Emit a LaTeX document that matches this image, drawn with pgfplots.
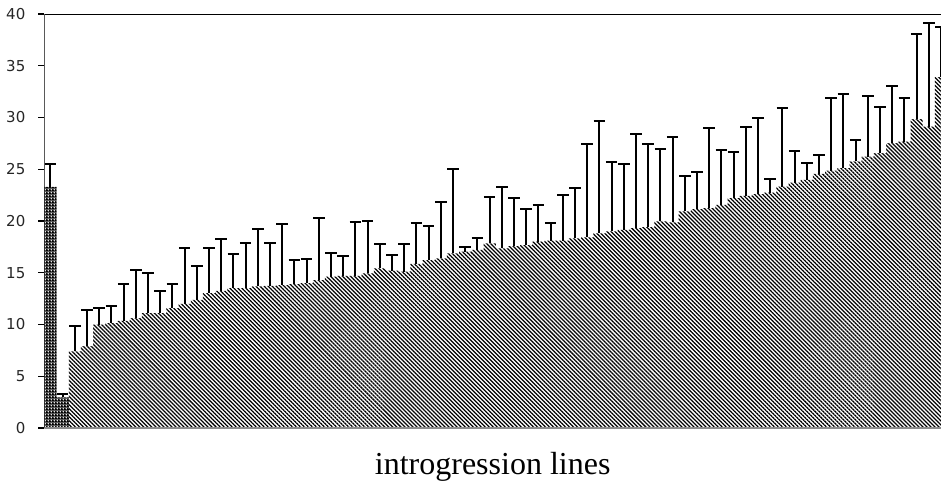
\documentclass[border=0pt]{standalone}
\usepackage{fontspec}
\setmainfont{Liberation Serif}
\newfontfamily\ticksfont{DejaVu Sans}
\usepackage{pgfplots}
\pgfplotsset{compat=1.18}
\usepackage{pgfplotstable}
\usetikzlibrary{patterns.meta}

% black tile with a small white dot: used for the two parental lines
\pgfdeclarepattern{
  name=parentdots,
  type=colored,
  bottom left={\pgfpoint{0pt}{0pt}},
  top right={\pgfpoint{1.6pt}{1.6pt}},
  tile size={\pgfpoint{1.6pt}{1.6pt}},
  code={
    \pgfsetfillcolor{black}
    \pgfpathrectangle{\pgfpointorigin}{\pgfpoint{1.6pt}{1.6pt}}
    \pgfusepath{fill}
    \pgfsetfillcolor{white}
    \pgfpathcircle{\pgfpoint{0.8pt}{0.8pt}}{0.5pt}
    \pgfusepath{fill}
  }
}

% parents: mean and upper error
\pgfplotstableread{
x  y     err
0  23.30 2.20
1  2.95  0.30
}\parents

% introgression lines: mean and upper error
\pgfplotstableread{
x  y     err
2  7.40  2.42
3  7.90  3.53
4  9.98  1.61
5  10.14 1.61
6  10.36 3.58
7  10.62 4.67
8  11.10 3.87
9  11.10 2.10
10 11.59 2.35
11 12.00 5.44
12 12.39 3.28
13 13.04 4.31
14 13.26 4.99
15 13.52 3.28
16 13.52 4.31
17 13.68 5.57
18 13.74 4.09
19 13.80 5.90
20 13.90 2.29
21 14.00 2.35
22 14.30 6.00
23 14.62 2.26
24 14.69 1.93
25 14.69 5.21
26 14.94 5.06
27 15.43 2.32
28 15.20 1.55
29 15.10 2.65
30 15.85 3.99
31 16.23 3.32
32 16.39 5.48
33 16.88 8.14
34 17.04 0.45
35 17.20 1.13
36 17.84 4.51
37 17.36 5.89
38 17.58 4.67
39 17.68 3.45
40 18.00 3.51
41 18.10 1.74
42 18.10 4.41
43 18.33 4.86
44 18.42 8.98
45 18.81 10.86
46 19.00 6.70
47 19.15 6.34
48 19.31 9.08
49 19.41 8.01
50 19.96 7.04
51 19.86 8.27
52 20.92 3.44
53 21.15 3.60
54 21.24 7.73
55 21.56 5.31
56 22.21 4.47
57 22.43 6.70
58 22.59 7.37
59 22.75 1.32
60 23.33 7.60
61 23.72 3.06
62 23.98 1.61
63 24.56 1.77
64 24.88 7.02
65 25.10 7.15
66 25.75 2.09
67 26.23 5.86
68 26.55 4.51
69 27.52 5.53
70 27.68 4.18
71 29.84 8.24
72 29.13 9.98
73 33.89 4.89
}\lines

\begin{document}
\begin{tikzpicture}
\begin{axis}[
  at={(0,0)}, anchor=south west,
  scale only axis,
  width=448.3pt, height=207pt,
  xmin=-0.5, xmax=73,
  ymin=0, ymax=40,
  ytick={0,5,...,40},
  xtick=\empty,
  ytick pos=left,
  tick align=outside,
  major tick length=3pt,
  tick style={black, line width=0.6pt},
  axis line style={draw=none},
  /pgf/number format/assume math mode=true,
  yticklabel style={font=\ticksfont\fontsize{7.5}{9}\selectfont, text=black!85, xshift=-3pt},
  xlabel={introgression lines},
  xlabel style={font=\fontsize{16}{19}\selectfont, at={(axis description cs:0.5,0)}, anchor=base, yshift=-23pt},
  ybar, bar width=1, bar shift=0pt,
  error bars/error bar style={black, line width=1pt},
  error bars/error mark options={black, line width=1pt, mark size=2.9pt},
]
\addplot[draw=none, pattern=parentdots,
  error bars/.cd, y dir=plus, y explicit, error mark=|]
  table[x=x, y=y, y error=err] {\parents};
\addplot[draw=none, pattern={Lines[angle=-45, distance=1.42pt, line width=0.62pt]}, pattern color=black,
  error bars/.cd, y dir=plus, y explicit, error mark=|]
  table[x=x, y=y, y error=err] {\lines};
\draw[black, line width=1pt] (rel axis cs:0,0) -- (rel axis cs:0,1) -- (rel axis cs:1,1);
\draw[black!45, line width=0.8pt] (rel axis cs:0,0) -- (rel axis cs:1,0);
\end{axis}
\pgfresetboundingbox
\useasboundingbox (-22.2pt,-30pt) rectangle (448.3pt,214pt);
\end{tikzpicture}
\end{document}
